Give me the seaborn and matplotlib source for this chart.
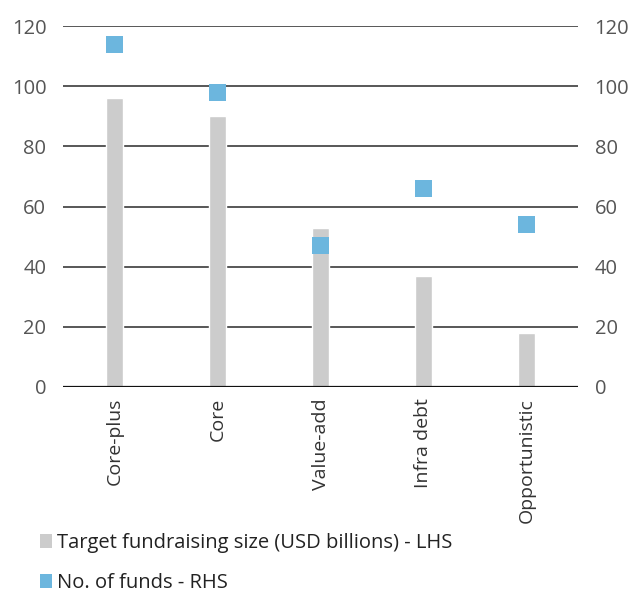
import matplotlib
matplotlib.use("Agg")
import matplotlib.pyplot as plt
import seaborn as sns
import pandas as pd
from matplotlib.patches import Patch

categories = ["Core-plus", "Core", "Value-add", "Infra debt", "Opportunistic"]
target_size = [96, 90, 53, 37, 18]
num_funds = [114, 98, 47, 66, 54]
yticks = [0, 20, 40, 60, 80, 100, 120]

bar_label = "Target fundraising size (USD billions) - LHS"
pt_label = "No. of funds - RHS"
bar_color = "#cccccc"
pt_color = "#6cb6de"

sns.set_style("white")
plt.rcParams["font.family"] = ["Open Sans", "DejaVu Sans"]

df = pd.DataFrame({"cat": categories, "size": target_size, "funds": num_funds})

fig = plt.figure(figsize=(6.35, 5.92), dpi=100)
ax = fig.add_axes([63 / 635, 1 - 387 / 592, (578 - 63) / 635, (387 - 26) / 592])

sns.barplot(data=df, x="cat", y="size", color=bar_color, width=0.17, ax=ax,
            saturation=1, zorder=3)
ax.set_ylim(0, 120)
ax.set_yticks(yticks)
ax.set_xlim(-0.5, 4.5)
for y in yticks[1:]:
    ax.axhline(y, color="#2a2a2a", lw=1.1, zorder=1)
ax.axhline(0, color="#111111", lw=1.6, zorder=4)
for s in ax.spines.values():
    s.set_visible(False)
ax.set_xlabel("")
ax.set_ylabel("")
ax.tick_params(axis="y", length=0, labelsize=14.5, labelcolor="#555555", pad=12)
ax.tick_params(axis="x", length=0, labelsize=14, labelcolor="#333333", pad=8)
plt.setp(ax.get_xticklabels(), rotation=90, va="top", ha="center")

ax2 = ax.twinx()
sns.scatterplot(data=df, x="cat", y="funds", marker="s", s=150, color=pt_color,
                edgecolor="none", ax=ax2, zorder=5, legend=False)
ax2.set_ylim(0, 120)
ax2.set_yticks(yticks)
ax2.set_ylabel("")
for s in ax2.spines.values():
    s.set_visible(False)
ax2.tick_params(axis="y", length=0, labelsize=14.5, labelcolor="#555555", pad=12)

handles = [Patch(facecolor=bar_color, edgecolor="none", label=bar_label),
           Patch(facecolor=pt_color, edgecolor="none", label=pt_label)]
fig.legend(handles=handles, loc="upper left", bbox_to_anchor=(40 / 635, 1 - 533 / 592),
           frameon=False, fontsize=14.5, handlelength=0.6, handleheight=0.65,
           handletextpad=0.25, labelspacing=1.0, borderaxespad=0, borderpad=0,
           labelcolor="#222222")

fig.savefig("out.png", dpi=100)
